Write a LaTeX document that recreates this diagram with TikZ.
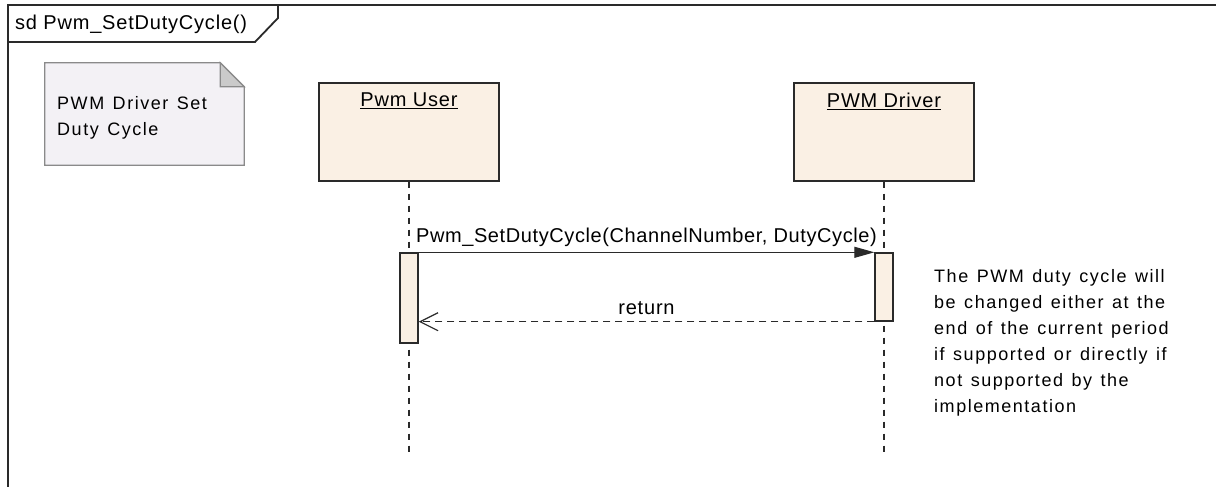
\documentclass[tikz,border=0pt]{standalone}
\usepackage{fontspec}
\setmainfont{Liberation Sans}
\newfontfamily\diagfont[LetterSpace=4]{Liberation Sans}
\newfontfamily\msgfont[LetterSpace=3]{Liberation Sans}
\newfontfamily\widefont[LetterSpace=8.5,WordSpace=1.3]{Liberation Sans}
\usetikzlibrary{arrows.meta}
\definecolor{lifefill}{HTML}{FAF0E4}
\definecolor{notefill}{HTML}{F3F1F5}
\definecolor{foldfill}{HTML}{CACACA}
\definecolor{notedraw}{HTML}{8A8A8A}
\definecolor{ink}{HTML}{2A2A2A}
\tikzset{
  txt/.style={font=\diagfont\fontsize{20}{24}\selectfont, text=black, inner sep=0pt},
  msgtxt/.style={font=\msgfont\fontsize{20}{24}\selectfont, text=black, inner sep=0pt},
  widetxt/.style={font=\widefont\fontsize{18}{26}\selectfont, text=black, inner sep=0pt},
  lifebox/.style={draw=ink, line width=1.4pt, fill=lifefill, minimum width=180pt, minimum height=98pt, inner sep=0pt},
  act/.style={draw=ink, line width=1.4pt, fill=lifefill, minimum width=18pt, inner sep=0pt},
  lifeline/.style={draw=ink, line width=1.2pt, dash pattern=on 6pt off 6pt},
  msg/.style={draw=ink, line width=1.2pt, -{Triangle[length=20pt,width=11pt]}},
  ret/.style={draw=ink, line width=1.2pt, dash pattern=on 7pt off 5pt, -{Straight Barb[length=18pt,width=18pt,line width=1.2pt]}},
  frame/.style={draw=ink, line width=1.8pt}
}
\begin{document}
\begin{tikzpicture}[x=1pt,y=-1pt]
\useasboundingbox[fill=white] (0,0) rectangle (1216,487);
% frame
\draw[frame] (8,487) -- (8,5) -- (1216,5);
\draw[frame] (8,42) -- (255,42) -- (278,18) -- (278,5);
\node[txt, anchor=west] (title) at (15,24) {sd Pwm\_SetDutyCycle()};
% note
\node[minimum width=199pt, minimum height=102pt, inner sep=0pt] (note) at (144.5,114) {};
\draw[draw=notedraw, fill=notefill, line width=1.2pt]
  (note.north west) -- ([xshift=-24pt]note.north east) -- ([yshift=-24pt]note.north east) -- (note.south east) -- (note.south west) -- cycle;
\draw[draw=notedraw, fill=foldfill, line width=1.2pt]
  ([xshift=-24pt]note.north east) -- ([yshift=-24pt]note.north east) -- ([xshift=-24pt,yshift=-24pt]note.north east) -- cycle;
\node[widetxt, anchor=north west, align=left] (notetext) at (57,96) {PWM Driver Set\\Duty Cycle};
% lifelines
\node[lifebox] (user) at (409,132) {};
\node[txt] (userlbl) at (409,101) {\underline{Pwm User}};
\node[lifebox] (drv) at (884,132) {};
\node[txt] (drvlbl) at (884,101) {\underline{PWM Driver}};
\coordinate (userend) at (409,455);
\coordinate (drvend) at (884,455);
\draw[lifeline] (user.south) -- (userend);
\draw[lifeline] (drv.south) -- (drvend);
% activations
\node[act, minimum height=90pt] (uact) at (409,298) {};
\node[act, minimum height=68pt] (dact) at (884,287) {};
% messages
\draw[msg] (uact.north east) -- node[msgtxt, above=5pt] (call) {Pwm\_SetDutyCycle(ChannelNumber, DutyCycle)} (dact.north west);
\coordinate (retend) at (uact.east |- dact.south west);
\draw[ret] (dact.south west) -- node[txt, above=6pt] (retlbl) {return} (retend);
% comment text
\node[widetxt, anchor=north west, align=left] (comment) at (934,269) {The PWM duty cycle will\\be changed either at the\\end of the current period\\if supported or directly if\\not supported by the\\implementation};
\end{tikzpicture}
\end{document}
